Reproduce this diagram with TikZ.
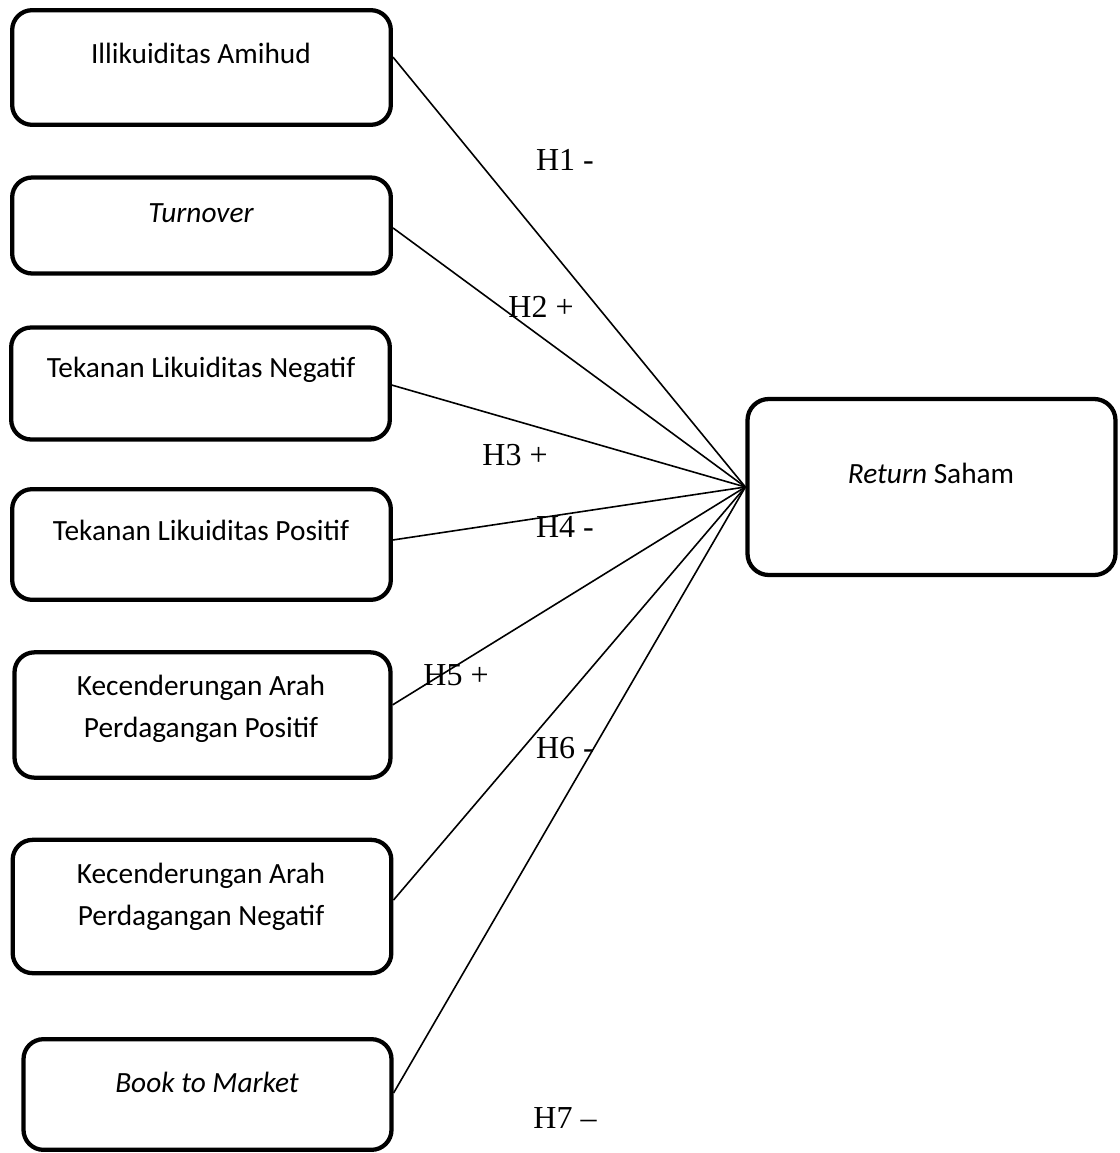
\documentclass[tikz,border=0pt]{standalone}
\usepackage{fontspec}
\setmainfont{Carlito}
\newfontfamily\hypfont{Liberation Serif}
\usetikzlibrary{positioning}

\begin{document}
\begin{tikzpicture}[
    x=0.375pt, y=-0.375pt,
    varbox/.style={rectangle, draw=black, line width=1.6pt, rounded corners=7.5pt, minimum width=142pt, inner sep=0pt},
    outbox/.style={rectangle, draw=black, line width=1.6pt, rounded corners=8pt, minimum width=138pt, minimum height=66pt, inner sep=0pt},
    vartext/.style={align=center, inner sep=0pt, font=\fontsize{11}{15.75}\selectfont},
    hyp/.style={inner sep=0pt, font=\hypfont\fontsize{12}{14}\selectfont},
    link/.style={line width=0.6pt},
]
\useasboundingbox (0,0) rectangle (1120,1153);

% --- INDEPENDENT VARIABLES (left column) ---
\node[varbox, minimum height=43pt] (amihud)   at (201.5, 67.5)  {};
\node[varbox, minimum height=36pt] (turnover) at (201.5, 225.5) {};
\node[varbox, minimum height=42pt] (tlneg)    at (200.5, 383.5) {};
\node[varbox, minimum height=41.5pt] (tlpos)  at (201.5, 544.5) {};
\node[varbox, minimum height=47pt, minimum width=141pt] (kapos) at (202.5, 715)   {};
\node[varbox, minimum height=50pt, minimum width=142pt] (kaneg) at (202, 906.5)   {};
\node[varbox, minimum height=41.5pt, minimum width=138pt] (btm) at (207.5, 1094.5) {};

\node[vartext] (amihudtxt)   at (201, 53)   {Illikuiditas Amihud};
\node[vartext] (turnovertxt) at (201, 213)  {\itshape Turnover};
\node[vartext] (tlnegtxt)    at (201, 370)  {Tekanan Likuiditas Negatif};
\node[vartext] (tlpostxt)    at (201, 530)  {Tekanan Likuiditas Positif};
\node[vartext] (kapostxt)    at (201, 709)  {Kecenderungan Arah\\Perdagangan Positif};
\node[vartext] (kanegtxt)    at (201, 897)  {Kecenderungan Arah\\Perdagangan Negatif};
\node[vartext] (btmtxt)      at (207, 1082) {\itshape Book to Market};

% --- DEPENDENT VARIABLE ---
\node[outbox] (ret) at (931.5, 487) {};
\node[vartext] (rettxt) at (931, 473) {\itshape Return\/\upshape{} Saham};

% --- HYPOTHESIS LINKS ---
\draw[link] ([yshift=3.9pt]amihud.east)    -- (ret.west);
\draw[link] ([yshift=-0.9pt]turnover.east) -- (ret.west);
\draw[link] ([yshift=-0.6pt]tlneg.east)    -- (ret.west);
\draw[link] ([yshift=1.7pt]tlpos.east)     -- (ret.west);
\draw[link] ([yshift=3.8pt]kapos.east)     -- (ret.west);
\draw[link] ([yshift=2.4pt]kaneg.east)     -- (ret.west);
\draw[link] ([yshift=0.6pt]btm.east)       -- (ret.west);

% --- LABELS ---
\node[hyp] (h1) at (565, 160)  {H1 -};
\node[hyp] (h2) at (541, 307)  {H2 +};
\node[hyp] (h3) at (515, 455)  {H3 +};
\node[hyp] (h4) at (565, 527)  {H4 -};
\node[hyp] (h5) at (456, 675)  {H5 +};
\node[hyp] (h6) at (565, 748)  {H6 -};
\node[hyp] (h7) at (565, 1118) {H7 –};

\end{tikzpicture}
\end{document}
